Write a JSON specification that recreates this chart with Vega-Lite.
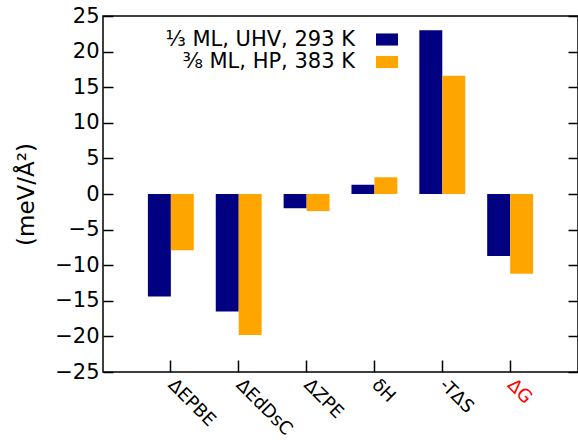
{
  "$schema": "https://vega.github.io/schema/vega-lite/v6.json",
  "width": 475,
  "height": 356,
  "autosize": "none",
  "padding": {"left": 103, "top": 16, "right": 0, "bottom": 74},
  "config": {
    "font": "DejaVu Sans",
    "view": {"stroke": "black", "strokeWidth": 1.5},
    "axis": {"grid": false, "domain": false, "tickColor": "black", "tickWidth": 1.5, "labelColor": "black", "labelFontSize": 21, "titleFontSize": 23, "titleFontWeight": "normal", "titleColor": "black"}
  },
  "data": {
    "values": [
      {"cat": "ΔEPBE", "series": "⅓ ML, UHV, 293 K", "value": -14.4},
      {"cat": "ΔEPBE", "series": "⅜ ML, HP, 383 K", "value": -7.9},
      {"cat": "ΔEdDsC", "series": "⅓ ML, UHV, 293 K", "value": -16.5},
      {"cat": "ΔEdDsC", "series": "⅜ ML, HP, 383 K", "value": -19.8},
      {"cat": "ΔZPE", "series": "⅓ ML, UHV, 293 K", "value": -2.0},
      {"cat": "ΔZPE", "series": "⅜ ML, HP, 383 K", "value": -2.4},
      {"cat": "δH", "series": "⅓ ML, UHV, 293 K", "value": 1.3},
      {"cat": "δH", "series": "⅜ ML, HP, 383 K", "value": 2.35},
      {"cat": "-TΔS", "series": "⅓ ML, UHV, 293 K", "value": 23.0},
      {"cat": "-TΔS", "series": "⅜ ML, HP, 383 K", "value": 16.6},
      {"cat": "ΔG", "series": "⅓ ML, UHV, 293 K", "value": -8.7},
      {"cat": "ΔG", "series": "⅜ ML, HP, 383 K", "value": -11.2}
    ]
  },
  "layer": [
    {
      "mark": {"type": "bar"},
      "encoding": {
        "x": {
          "field": "cat", "type": "nominal", "sort": null,
          "scale": {"paddingInner": 0, "paddingOuter": 0.5},
          "axis": {"title": null, "labelAngle": 45, "labelAlign": "left", "labelBaseline": "middle", "labelPadding": 22, "tickSize": -12, "labelFontSize": 18,
            "labelColor": {"condition": {"test": "datum.value === 'ΔG'", "value": "red"}, "value": "black"}}
        },
        "xOffset": {"field": "series", "sort": null, "scale": {"paddingOuter": 0.478}},
        "y": {
          "field": "value", "type": "quantitative",
          "scale": {"domain": [-25, 25], "nice": false, "zero": false},
          "axis": {"title": "(meV/Å²)", "values": [-25, -20, -15, -10, -5, 0, 5, 10, 15, 20, 25], "tickSize": -10, "labelPadding": 14, "titlePadding": 16}
        },
        "color": {
          "field": "series", "type": "nominal", "sort": null,
          "scale": {"range": ["#000080", "#FFA500"]},
          "legend": {"title": null, "orient": "none", "legendX": 273, "legendY": 12.5, "padding": 0, "rowPadding": 1.5,
            "symbolType": "M-1,-0.55H1V0.55H-1Z", "symbolSize": 484, "symbolStrokeWidth": 0, "symbolOpacity": 1,
            "labelAlign": "right", "labelOffset": -43, "labelFontSize": 21, "labelColor": "black", "labelLimit": 400}
        }
      }
    },
    {
      "mark": {"type": "rule", "opacity": 0},
      "encoding": {
        "y": {
          "field": "value", "type": "quantitative",
          "scale": {"domain": [-25, 25], "nice": false, "zero": false},
          "axis": {"orient": "right", "title": null, "labels": false, "values": [-25, -20, -15, -10, -5, 0, 5, 10, 15, 20, 25], "tickSize": -10}
        }
      }
    }
  ],
  "resolve": {"axis": {"y": "independent"}}
}
